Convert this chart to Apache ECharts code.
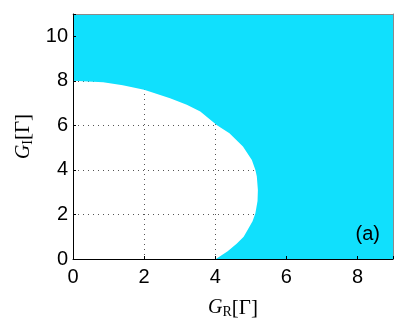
<!DOCTYPE html>
<html>
<head>
<meta charset="utf-8">
<script src="https://cdn.jsdelivr.net/npm/echarts@6/dist/echarts.min.js"></script>
<style>
  html, body { margin: 0; padding: 0; background: #fff; }
  #chart { width: 407px; height: 326px; }
</style>
</head>
<body>
<div id="chart"></div>
<script>
// boundary of the white region, from (0,8) round to (4,0)
var boundaryX = [0, 0.85, 1.4, 2.0, 2.73, 3.2, 3.58, 4.05, 4.4, 4.78, 5.03, 5.13, 5.17, 5.2, 5.19, 5.13, 5.05, 4.91, 4.8, 4.61, 4.35, 4.02];
var boundaryY = [8.0, 7.94, 7.8, 7.6, 7.22, 6.92, 6.62, 6.0, 5.65, 5.05, 4.45, 4.0, 3.7, 3.1, 2.6, 2.05, 1.7, 1.3, 1.0, 0.7, 0.35, 0];
// outer corners of the plot, to close the cyan region
var cornerX = [9, 9, 0];
var cornerY = [0, 11, 11];

var chart = echarts.init(document.getElementById('chart'));

var nameRich = {
    i: { fontFamily: 'Liberation Serif', fontStyle: 'italic', fontSize: 20, color: '#000' },
    s: { fontFamily: 'Liberation Serif', fontSize: 14, color: '#000', verticalAlign: 'bottom', padding: [8, 0, 0, 0] },
    b: { fontFamily: 'Liberation Serif', fontSize: 21, color: '#000' }
};

// only axis line + ticks, drawn above the fill
function lineAxis(pos, max, color, ticks) {
    return {
        type: 'value',
        position: pos,
        min: 0,
        max: max,
        interval: 2,
        z: 5,
        axisLine: { show: true, onZero: false, lineStyle: { color: color, width: 1 } },
        axisTick: { show: ticks, inside: true, length: 3, lineStyle: { color: '#000' } },
        axisLabel: { show: false },
        splitLine: { show: false }
    };
}

var option = {
    animation: false,
    title: {
        text: '(a)',
        right: 22,
        top: 219,
        textStyle: { color: '#000', fontSize: 20, fontWeight: 'normal', fontFamily: 'Liberation Sans' }
    },
    grid: {
        left: 73,
        right: 14,
        top: 14,
        bottom: 67
    },
    xAxis: [{
        type: 'value',
        min: 0,
        max: 9,
        interval: 2,
        axisLine: { show: false },
        axisTick: { show: false },
        axisLabel: {
            margin: 8,
            color: '#000',
            fontSize: 20,
            fontFamily: 'Liberation Sans',
            showMaxLabel: false
        },
        splitLine: { show: true, lineStyle: { color: '#555', type: [1, 4], width: 1 } },
        name: '{i|G}{s|R}{b|[Γ]}',
        nameLocation: 'middle',
        nameGap: 38,
        nameTextStyle: { rich: nameRich }
    },
        lineAxis('top', 9, '#8a8a8a', false),
        lineAxis('bottom', 9, '#000', true)
    ],
    yAxis: [{
        type: 'value',
        min: 0,
        max: 11,
        interval: 2,
        axisLine: { show: false },
        axisTick: { show: false },
        axisLabel: {
            margin: 5,
            color: '#000',
            fontSize: 20,
            fontFamily: 'Liberation Sans',
            showMaxLabel: false
        },
        splitLine: { show: true, lineStyle: { color: '#555', type: [1, 4], width: 1 } },
        name: '{i|G}{s|I}{b|[Γ]}',
        nameLocation: 'middle',
        nameRotate: 90,
        nameGap: 37,
        nameTextStyle: { rich: nameRich }
    },
        lineAxis('right', 11, '#8a8a8a', false),
        lineAxis('left', 11, '#000', true)
    ],
    series: [{
        type: 'custom',
        xAxisIndex: 0,
        yAxisIndex: 0,
        clip: true,
        data: [0],
        renderItem: function (params, api) {
            var pts = [];
            for (var i = 0; i < boundaryX.length; i++) {
                pts.push(api.coord([boundaryX[i], boundaryY[i]]));
            }
            for (var j = 0; j < cornerX.length; j++) {
                pts.push(api.coord([cornerX[j], cornerY[j]]));
            }
            return {
                type: 'polygon',
                shape: { points: pts },
                style: { fill: '#10e0fd', stroke: null }
            };
        }
    }]
};

chart.setOption(option);
</script>
</body>
</html>
